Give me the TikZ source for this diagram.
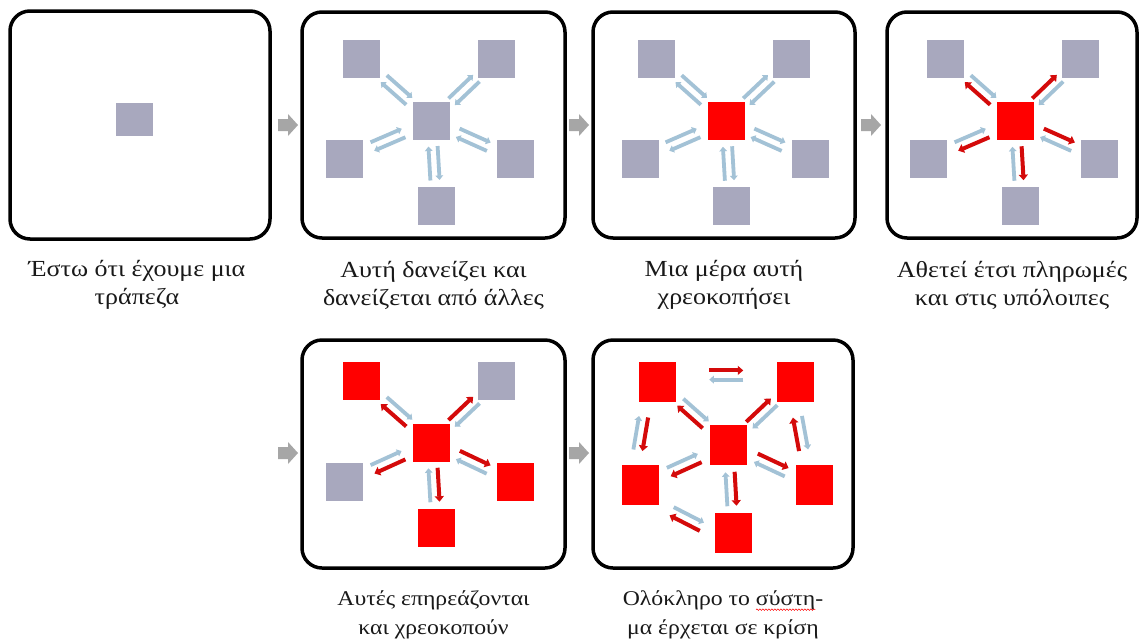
\documentclass[tikz,border=0pt]{standalone}
\usepackage{fontspec}
\setmainfont[FakeStretch=1.13]{Liberation Serif}
\usetikzlibrary{arrows.meta,calc,decorations.pathmorphing}
\definecolor{sqgray}{HTML}{A8A8BE}
\definecolor{sqred}{HTML}{FF0000}
\definecolor{arrblue}{HTML}{A3C2D6}
\definecolor{arrred}{HTML}{D40A0A}
\definecolor{chevgray}{HTML}{A6A6A6}
\newlength\wavelen
\newcommand\redwave[1]{\settowidth\wavelen{#1}#1\llap{\tikz[overlay]\draw[red, line width=0.5pt, decorate, decoration={snake, amplitude=0.8pt, segment length=3pt}] (-\wavelen,-4pt) -- (0pt,-4pt);}}
\newcommand\halflen{17pt}
\newcommand\sideoff{4.6pt}
% arrow between two named banks, centred on the midpoint, offset to its own left
\newcommand\flow[4][]{\draw[#2,#1] ($(#3)!0.5!(#4)!-\halflen!(#4)!\sideoff!90:(#4)$) -- ($(#3)!0.5!(#4)!\halflen!(#4)!\sideoff!90:(#4)$);}
\newcommand\chevron[3]{\fill[chevgray] (#2-10,#3-6) -- (#2,#3-6) -- (#2,#3-11) -- (#2+10,#3) -- (#2,#3+11) -- (#2,#3+6) -- (#2-10,#3+6) -- cycle; \coordinate (#1) at (#2,#3);}
\tikzset{
 panel/.style={draw=black, line width=3.5pt, rounded corners=20pt},
 bank/.style={minimum width=37pt, minimum height=38pt, inner sep=0pt, outer sep=0pt},
 graybank/.style={bank, fill=sqgray},
 redbank/.style={bank, fill=sqred},
 flowb/.style={draw=arrblue, line width=3.8pt, -{Triangle[length=4.5pt,width=7.5pt]}},
 flowr/.style={draw=arrred, line width=4pt, -{Triangle[length=5.5pt,width=9pt]}},
 caption/.style={align=center, text=black!90, inner sep=0pt},
 captop/.style={caption, font=\fontsize{23}{28}\selectfont},
 capbot/.style={caption, font=\fontsize{21}{29}\selectfont}
}
\begin{document}
\begin{tikzpicture}[x=1pt,y=-1pt]
\useasboundingbox[fill=white] (0,0) rectangle (1140,641);
% panels
\draw[panel] (10,11) rectangle (270,239);
\draw[panel] (302,12) rectangle (565,238);
\draw[panel] (593,12) rectangle (855,238);
\draw[panel] (887,12) rectangle (1137,238);
\draw[panel] (302,340) rectangle (565,568);
\draw[panel] (593,340) rectangle (853,568);
% chevrons
\chevron{ch1}{288}{125}
\chevron{ch2}{579}{125}
\chevron{ch3}{871}{125}
\chevron{ch4}{288}{453}
\chevron{ch5}{579}{453}
% panel 1
\node[graybank, minimum height=33pt] (a) at (134.5,119.5) {};
% panel 2
\node[graybank] (b-tl) at (361.5,59) {};
\node[graybank] (b-tr) at (496.5,59) {};
\node[graybank] (b-c)  at (431.5,121) {};
\node[graybank] (b-l)  at (344.5,158.5) {};
\node[graybank] (b-r)  at (515,158.5) {};
\node[graybank] (b-b)  at (436.5,205.5) {};
\foreach \n in {tl,tr,l,r,b}{\flow{flowb}{b-c}{b-\n}\flow{flowb}{b-\n}{b-c}}
% panel 3
\node[graybank] (c-tl) at (656.5,59) {};
\node[graybank] (c-tr) at (791.5,59) {};
\node[redbank]  (c-c)  at (726,121) {};
\node[graybank] (c-l)  at (640,158.5) {};
\node[graybank] (c-r)  at (810,158.5) {};
\node[graybank] (c-b)  at (731,206) {};
\foreach \n in {tl,tr,l,r,b}{\flow{flowb}{c-c}{c-\n}\flow{flowb}{c-\n}{c-c}}
% panel 4
\node[graybank] (d-tl) at (945.5,59) {};
\node[graybank] (d-tr) at (1080,59) {};
\node[redbank]  (d-c)  at (1015.5,121) {};
\node[graybank] (d-l)  at (928.5,158.5) {};
\node[graybank] (d-r)  at (1099.5,158.5) {};
\node[graybank] (d-b)  at (1020.5,206) {};
\foreach \n in {tl,tr,l,r,b}{\flow{flowr}{d-c}{d-\n}\flow{flowb}{d-\n}{d-c}}
% panel 5
\node[redbank]  (e-tl) at (361.5,381) {};
\node[graybank] (e-tr) at (496.5,381) {};
\node[redbank]  (e-c)  at (431.5,442.5) {};
\node[graybank] (e-l)  at (344.5,482) {};
\node[redbank]  (e-r)  at (515,482) {};
\node[redbank]  (e-b)  at (436.5,527.5) {};
\foreach \n in {tl,tr,l,r,b}{\flow{flowr}{e-c}{e-\n}\flow{flowb}{e-\n}{e-c}}
% panel 6
\node[redbank, minimum height=40pt] (f-tl) at (657.5,382) {};
\node[redbank, minimum height=40pt] (f-tr) at (795,382) {};
\node[redbank, minimum height=40pt] (f-c)  at (728.5,445) {};
\node[redbank, minimum height=40pt] (f-l)  at (640,485) {};
\node[redbank, minimum height=40pt] (f-r)  at (814,485) {};
\node[redbank, minimum height=40pt] (f-b)  at (733.5,533) {};
\foreach \n in {tl,tr,l,r,b}{\flow{flowr}{f-c}{f-\n}\flow{flowb}{f-\n}{f-c}}
\flow[transform canvas={yshift=7pt}]{flowr}{f-tl}{f-tr}
\flow[transform canvas={yshift=7pt}]{flowb}{f-tr}{f-tl}
\flow[transform canvas={xshift=-8pt}]{flowr}{f-tl}{f-l}
\flow[transform canvas={xshift=-8pt}]{flowb}{f-l}{f-tl}
\flow[transform canvas={xshift=-4pt}]{flowr}{f-r}{f-tr}
\flow[transform canvas={xshift=-4pt}]{flowb}{f-tr}{f-r}
\flow[transform canvas={yshift=-10pt}]{flowr}{f-b}{f-l}
\flow[transform canvas={yshift=-10pt}]{flowb}{f-l}{f-b}
% captions
\node[captop] (t1) at (137,285) {Έστω ότι έχουμε μια\\τράπεζα};
\node[captop] (t2) at (433.5,285) {Αυτή δανείζει και\\δανείζεται από άλλες};
\node[captop] (t3) at (724,285) {Μια μέρα αυτή\\χρεοκοπήσει};
\node[captop] (t4) at (1012,285) {Αθετεί έτσι πληρωμές\\και στις υπόλοιπες};
\node[capbot] (t5) at (433.5,615) {Αυτές επηρεάζονται\\και χρεοκοπούν};
\node[capbot] (t6) at (723,615) {Ολόκληρο το \redwave{σύστη}-\\μα έρχεται σε κρίση};
\end{tikzpicture}
\end{document}
